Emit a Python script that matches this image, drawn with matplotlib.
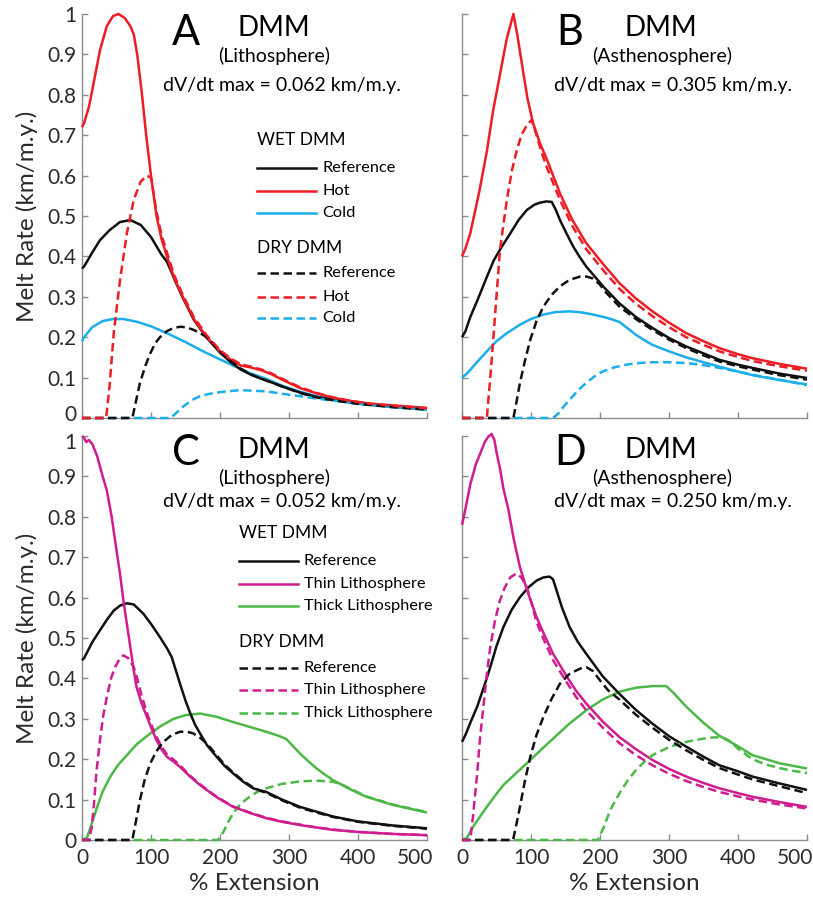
import matplotlib
matplotlib.use("Agg")
import matplotlib.pyplot as plt
from matplotlib.ticker import FuncFormatter
from matplotlib.transforms import ScaledTranslation

plt.rcParams['font.family'] = ['Lato', 'DejaVu Sans']

BLACK = '#111111'
RED = '#ee1c25'
CYAN = '#1aaeeb'
MAGENTA = '#cf1d8f'
GREEN = '#4cb848'
SPINE = '#8c8c8c'
TEXT = '#2b2b2b'

# ---------------- Panel A : DMM lithosphere ----------------
A_wet_ref_x = [0, 3, 15, 26, 40, 55, 70, 85, 100, 115, 123, 130, 134, 146, 162, 181, 200, 215, 230, 245, 260, 275, 290, 316, 340, 364, 400, 450, 500]
A_wet_ref_y = [0.37, 0.375, 0.41, 0.44, 0.465, 0.485, 0.49, 0.478, 0.448, 0.405, 0.387, 0.36, 0.343, 0.298, 0.243, 0.198, 0.162, 0.139, 0.12, 0.107, 0.097, 0.088, 0.078, 0.063, 0.052, 0.045, 0.036, 0.028, 0.022]
A_wet_hot_x = [0, 3, 10, 17, 26, 36, 45, 53, 62, 70, 75, 80, 87, 93, 100, 108, 115, 123, 134, 146, 162, 181, 200, 215, 230, 245, 260, 275, 290, 316, 340, 364, 390, 420, 460, 500]
A_wet_hot_y = [0.72, 0.73, 0.77, 0.83, 0.91, 0.97, 0.995, 1.0, 0.99, 0.97, 0.95, 0.9, 0.8, 0.7, 0.6, 0.5, 0.445, 0.4, 0.345, 0.3, 0.245, 0.2, 0.165, 0.145, 0.13, 0.125, 0.118, 0.108, 0.095, 0.074, 0.061, 0.05, 0.042, 0.035, 0.03, 0.025]
A_wet_cold_x = [0, 3, 15, 30, 45, 60, 80, 100, 123, 150, 171, 195, 219, 245, 267, 290, 316, 340, 364, 400, 450, 500]
A_wet_cold_y = [0.19, 0.2, 0.225, 0.24, 0.245, 0.245, 0.238, 0.227, 0.21, 0.188, 0.169, 0.149, 0.13, 0.11, 0.097, 0.08, 0.065, 0.054, 0.046, 0.036, 0.027, 0.02]
A_dry_ref_x = [0, 73, 78, 84, 92, 99, 106, 113, 123, 133, 143, 152, 162, 171, 181, 200, 215, 230, 245, 260, 275, 290, 316, 340, 364, 400, 450, 500]
A_dry_ref_y = [0, 0, 0.04, 0.087, 0.13, 0.16, 0.185, 0.2, 0.215, 0.223, 0.226, 0.224, 0.218, 0.21, 0.2, 0.165, 0.142, 0.122, 0.108, 0.097, 0.088, 0.078, 0.062, 0.051, 0.044, 0.035, 0.027, 0.021]
A_dry_hot_x = [0, 35, 40, 46, 55, 65, 75, 85, 94, 100, 108, 115, 123, 134, 146, 162, 181, 200, 215, 230, 245, 260, 275, 290, 316, 340, 364, 390, 420, 460, 500]
A_dry_hot_y = [0, 0, 0.08, 0.21, 0.34, 0.457, 0.54, 0.585, 0.6, 0.595, 0.51, 0.455, 0.41, 0.352, 0.305, 0.25, 0.204, 0.168, 0.148, 0.133, 0.127, 0.12, 0.11, 0.097, 0.076, 0.062, 0.051, 0.042, 0.035, 0.029, 0.024]
A_dry_cold_x = [0, 128, 135, 147, 160, 171, 185, 200, 229, 267, 290, 316, 340, 364, 400, 450, 500]
A_dry_cold_y = [0, 0, 0.01, 0.029, 0.045, 0.054, 0.06, 0.064, 0.069, 0.066, 0.06, 0.054, 0.048, 0.043, 0.035, 0.027, 0.021]

# ---------------- Panel B : DMM asthenosphere ----------------
B_wet_ref_x = [0, 5, 12, 22, 35, 46, 58, 70, 82, 94, 105, 113, 122, 130, 136, 142, 152, 161, 170, 180, 205, 228, 252, 276, 300, 325, 350, 373, 400, 421, 460, 500]
B_wet_ref_y = [0.2, 0.215, 0.25, 0.29, 0.345, 0.39, 0.425, 0.457, 0.49, 0.515, 0.528, 0.533, 0.536, 0.535, 0.515, 0.49, 0.455, 0.425, 0.4, 0.375, 0.325, 0.284, 0.25, 0.223, 0.198, 0.177, 0.16, 0.144, 0.132, 0.124, 0.11, 0.099]
B_wet_hot_x = [0, 5, 12, 25, 36, 45, 55, 65, 74.5, 80, 89, 95, 103, 113, 123, 142, 160, 180, 205, 228, 252, 276, 300, 325, 350, 373, 400, 421, 460, 500]
B_wet_hot_y = [0.4, 0.42, 0.457, 0.56, 0.66, 0.76, 0.85, 0.94, 1.0, 0.95, 0.853, 0.79, 0.73, 0.68, 0.64, 0.556, 0.49, 0.433, 0.38, 0.334, 0.296, 0.264, 0.236, 0.21, 0.19, 0.173, 0.158, 0.148, 0.134, 0.122]
B_wet_cold_x = [0, 10, 20, 36, 50, 65, 84, 100, 118, 135, 156, 175, 190, 210, 228, 240, 252, 264, 276, 300, 325, 350, 373, 400, 421, 460, 500]
B_wet_cold_y = [0.099, 0.115, 0.135, 0.165, 0.19, 0.21, 0.231, 0.245, 0.256, 0.262, 0.264, 0.261, 0.256, 0.248, 0.238, 0.222, 0.206, 0.193, 0.181, 0.165, 0.15, 0.138, 0.127, 0.115, 0.106, 0.094, 0.083]
B_dry_ref_x = [0, 74.5, 79, 84, 91, 99, 108, 118, 130, 142, 156, 171, 181, 190, 200, 209, 228, 252, 276, 300, 325, 350, 373, 400, 421, 460, 500]
B_dry_ref_y = [0, 0, 0.04, 0.087, 0.14, 0.194, 0.24, 0.276, 0.305, 0.326, 0.342, 0.35, 0.35, 0.345, 0.33, 0.31, 0.276, 0.245, 0.218, 0.194, 0.173, 0.155, 0.14, 0.128, 0.12, 0.106, 0.095]
B_dry_hot_x = [0, 36, 41, 46, 55, 65, 72, 79, 86, 94, 101, 108, 115, 123, 142, 160, 180, 205, 228, 252, 276, 300, 325, 350, 373, 400, 421, 460, 500]
B_dry_hot_y = [0, 0, 0.1, 0.21, 0.416, 0.54, 0.61, 0.66, 0.7, 0.725, 0.738, 0.7, 0.66, 0.62, 0.54, 0.475, 0.418, 0.365, 0.32, 0.283, 0.252, 0.225, 0.2, 0.181, 0.165, 0.151, 0.141, 0.128, 0.117]
B_dry_cold_x = [0, 132, 140, 148, 156, 168, 180, 192, 204, 220, 238, 256, 276, 300, 325, 350, 373, 400, 421, 460, 500]
B_dry_cold_y = [0, 0, 0.012, 0.03, 0.045, 0.068, 0.087, 0.103, 0.115, 0.125, 0.132, 0.136, 0.138, 0.138, 0.136, 0.131, 0.124, 0.115, 0.107, 0.095, 0.081]

# ---------------- Panel C : DMM lithosphere, thickness ----------------
C_wet_ref_x = [0, 3, 15, 26, 36, 46, 55, 65, 75, 89, 100, 113, 123, 130, 136, 142, 150, 157, 164, 171, 181, 195, 207, 219, 233, 248, 258, 267, 290, 316, 340, 364, 400, 450, 500]
C_wet_ref_y = [0.445, 0.45, 0.49, 0.519, 0.545, 0.568, 0.58, 0.586, 0.583, 0.56, 0.535, 0.502, 0.475, 0.453, 0.42, 0.387, 0.345, 0.313, 0.285, 0.264, 0.235, 0.206, 0.183, 0.165, 0.145, 0.128, 0.123, 0.119, 0.1, 0.082, 0.07, 0.058, 0.046, 0.036, 0.029]
C_wet_thin_x = [0, 3, 6, 10, 15, 22, 30, 36, 43, 50, 55, 60, 65, 70, 75, 79, 86, 94, 101, 108, 115, 123, 132, 142, 156, 171, 195, 219, 245, 267, 290, 316, 340, 364, 400, 450, 500]
C_wet_thin_y = [1.0, 0.995, 0.985, 0.99, 0.98, 0.95, 0.9, 0.865, 0.8, 0.717, 0.66, 0.593, 0.535, 0.478, 0.42, 0.379, 0.34, 0.305, 0.275, 0.247, 0.225, 0.206, 0.195, 0.181, 0.158, 0.136, 0.106, 0.082, 0.066, 0.054, 0.045, 0.037, 0.031, 0.025, 0.02, 0.015, 0.012]
C_wet_thick_x = [0, 7, 14, 22, 30, 41, 52, 65, 80, 99, 115, 133, 150, 171, 195, 219, 245, 267, 285, 296, 306, 316, 328, 340, 352, 364, 388, 412, 450, 500]
C_wet_thick_y = [0, 0.005, 0.04, 0.082, 0.12, 0.157, 0.185, 0.21, 0.238, 0.264, 0.283, 0.3, 0.309, 0.313, 0.305, 0.292, 0.279, 0.268, 0.258, 0.25, 0.232, 0.214, 0.195, 0.177, 0.162, 0.148, 0.126, 0.107, 0.087, 0.068]
C_dry_ref_x = [0, 73, 78, 84, 91, 99, 108, 118, 130, 142, 152, 161, 171, 181, 195, 207, 219, 233, 248, 258, 267, 290, 316, 340, 364, 400, 450, 500]
C_dry_ref_y = [0, 0, 0.045, 0.099, 0.15, 0.19, 0.22, 0.243, 0.26, 0.268, 0.268, 0.264, 0.253, 0.239, 0.21, 0.186, 0.167, 0.147, 0.13, 0.122, 0.117, 0.098, 0.08, 0.068, 0.057, 0.045, 0.035, 0.028]
C_dry_thin_x = [0, 10, 14, 17, 21, 26, 31, 36, 42, 48, 55, 60, 67, 75, 80, 86, 94, 101, 108, 115, 123, 132, 142, 156, 171, 195, 219, 245, 267, 290, 316, 340, 364, 400, 450, 500]
C_dry_thin_y = [0, 0, 0.03, 0.082, 0.17, 0.247, 0.31, 0.354, 0.4, 0.428, 0.45, 0.457, 0.45, 0.428, 0.4, 0.36, 0.315, 0.283, 0.255, 0.232, 0.212, 0.2, 0.185, 0.16, 0.138, 0.107, 0.083, 0.067, 0.055, 0.046, 0.038, 0.031, 0.026, 0.02, 0.015, 0.012]
C_dry_thick_x = [0, 197, 205, 212, 219, 230, 243, 255, 267, 290, 316, 340, 364, 376, 388, 412, 450, 500]
C_dry_thick_y = [0, 0, 0.02, 0.045, 0.066, 0.09, 0.107, 0.12, 0.128, 0.139, 0.145, 0.147, 0.144, 0.138, 0.128, 0.108, 0.088, 0.069]

# ---------------- Panel D : DMM asthenosphere, thickness ----------------
D_wet_ref_x = [0, 5, 12, 22, 32, 41, 50, 60, 72, 84, 96, 108, 118, 127, 132, 137, 145, 156, 168, 180, 204, 228, 252, 276, 300, 325, 350, 373, 400, 421, 460, 500]
D_wet_ref_y = [0.243, 0.26, 0.29, 0.33, 0.38, 0.428, 0.48, 0.527, 0.57, 0.601, 0.625, 0.642, 0.65, 0.652, 0.645, 0.618, 0.575, 0.527, 0.49, 0.461, 0.405, 0.362, 0.322, 0.288, 0.257, 0.231, 0.206, 0.185, 0.17, 0.157, 0.14, 0.124]
D_wet_thin_x = [0, 5, 12, 20, 26, 33, 38, 43, 47, 50, 55, 60, 67, 75, 84, 96, 108, 120, 132, 150, 165, 180, 204, 228, 252, 276, 300, 325, 350, 373, 400, 421, 460, 500]
D_wet_thin_y = [0.78, 0.82, 0.88, 0.93, 0.955, 0.985, 0.998, 1.005, 0.99, 0.96, 0.92, 0.87, 0.82, 0.745, 0.675, 0.61, 0.552, 0.505, 0.461, 0.41, 0.37, 0.338, 0.293, 0.255, 0.225, 0.198, 0.176, 0.157, 0.141, 0.128, 0.116, 0.107, 0.094, 0.082]
D_wet_thick_x = [0, 7, 15, 25, 36, 48, 60, 80, 99, 115, 132, 155, 180, 204, 228, 252, 276, 296, 306, 325, 350, 373, 400, 421, 460, 500]
D_wet_thick_y = [0, 0.005, 0.03, 0.055, 0.082, 0.11, 0.136, 0.168, 0.198, 0.224, 0.251, 0.287, 0.321, 0.348, 0.367, 0.377, 0.381, 0.381, 0.365, 0.33, 0.29, 0.258, 0.232, 0.21, 0.19, 0.177]
D_dry_ref_x = [0, 74, 79, 84, 91, 99, 108, 118, 130, 142, 155, 166, 175, 180, 190, 200, 212, 228, 252, 276, 300, 325, 350, 373, 400, 421, 460, 500]
D_dry_ref_y = [0, 0, 0.04, 0.082, 0.145, 0.206, 0.26, 0.305, 0.35, 0.387, 0.41, 0.42, 0.427, 0.428, 0.418, 0.395, 0.37, 0.348, 0.31, 0.278, 0.248, 0.222, 0.198, 0.178, 0.162, 0.15, 0.133, 0.116]
D_dry_thin_x = [0, 12, 16, 22, 26, 31, 36, 41, 48, 55, 62, 70, 79, 86, 94, 101, 108, 120, 132, 150, 165, 180, 204, 228, 252, 276, 300, 325, 350, 373, 400, 421, 460, 500]
D_dry_thin_y = [0, 0, 0.06, 0.165, 0.25, 0.33, 0.41, 0.478, 0.545, 0.593, 0.625, 0.65, 0.66, 0.65, 0.626, 0.585, 0.54, 0.49, 0.445, 0.395, 0.355, 0.321, 0.278, 0.24, 0.21, 0.185, 0.164, 0.146, 0.131, 0.119, 0.108, 0.1, 0.088, 0.078]
D_dry_thick_x = [0, 197, 205, 215, 228, 240, 252, 264, 276, 300, 325, 350, 365, 378, 390, 400, 421, 440, 460, 480, 500]
D_dry_thick_y = [0, 0, 0.03, 0.075, 0.115, 0.147, 0.173, 0.193, 0.21, 0.23, 0.243, 0.251, 0.254, 0.254, 0.243, 0.226, 0.2, 0.187, 0.178, 0.171, 0.166]

x_ticks = [0, 100, 200, 300, 400, 500]
y_ticks = [0, 0.1, 0.2, 0.3, 0.4, 0.5, 0.6, 0.7, 0.8, 0.9, 1.0]

panel_letters = ['A', 'B', 'C', 'D']
panel_layers = ['(Lithosphere)', '(Asthenosphere)', '(Lithosphere)', '(Asthenosphere)']
panel_rates = ['0.062', '0.305', '0.052', '0.250']

LW = 1.8
DASH = (3.4, 1.8)

fig = plt.figure(figsize=(8.13, 8.98), dpi=100)
W, H = 813, 898
def axes_at(x0, x1, y_top, y_bot):
    return fig.add_axes([x0 / W, 1 - y_bot / H, (x1 - x0) / W, (y_bot - y_top) / H])

axA = axes_at(82, 427, 14, 418)
axB = axes_at(462, 807, 14, 418)
axC = axes_at(82, 427, 436, 840)
axD = axes_at(462, 807, 436, 840)
axes = [axA, axB, axC, axD]

def solid(ax, x, y, c):
    ax.plot(x, y, color=c, lw=LW, clip_on=False, solid_capstyle='butt',
            solid_joinstyle='round', zorder=3)

def dashed(ax, x, y, c):
    ax.plot(x, y, color=c, lw=LW, dashes=DASH, clip_on=False, zorder=3)

solid(axA, A_wet_cold_x, A_wet_cold_y, CYAN)
solid(axA, A_wet_ref_x, A_wet_ref_y, BLACK)
solid(axA, A_wet_hot_x, A_wet_hot_y, RED)
dashed(axA, A_dry_cold_x, A_dry_cold_y, CYAN)
dashed(axA, A_dry_ref_x, A_dry_ref_y, BLACK)
dashed(axA, A_dry_hot_x, A_dry_hot_y, RED)

solid(axB, B_wet_cold_x, B_wet_cold_y, CYAN)
solid(axB, B_wet_ref_x, B_wet_ref_y, BLACK)
solid(axB, B_wet_hot_x, B_wet_hot_y, RED)
dashed(axB, B_dry_cold_x, B_dry_cold_y, CYAN)
dashed(axB, B_dry_ref_x, B_dry_ref_y, BLACK)
dashed(axB, B_dry_hot_x, B_dry_hot_y, RED)

solid(axC, C_wet_thick_x, C_wet_thick_y, GREEN)
solid(axC, C_wet_ref_x, C_wet_ref_y, BLACK)
solid(axC, C_wet_thin_x, C_wet_thin_y, MAGENTA)
dashed(axC, C_dry_thick_x, C_dry_thick_y, GREEN)
dashed(axC, C_dry_ref_x, C_dry_ref_y, BLACK)
dashed(axC, C_dry_thin_x, C_dry_thin_y, MAGENTA)

solid(axD, D_wet_thick_x, D_wet_thick_y, GREEN)
solid(axD, D_wet_ref_x, D_wet_ref_y, BLACK)
solid(axD, D_wet_thin_x, D_wet_thin_y, MAGENTA)
dashed(axD, D_dry_thick_x, D_dry_thick_y, GREEN)
dashed(axD, D_dry_ref_x, D_dry_ref_y, BLACK)
dashed(axD, D_dry_thin_x, D_dry_thin_y, MAGENTA)

fmt = FuncFormatter(lambda v, p: '%g' % round(v, 1))
for i, ax in enumerate(axes):
    ax.set_xlim(0, 500)
    ax.set_ylim(0, 1)
    ax.set_xticks(x_ticks)
    ax.set_yticks(y_ticks)
    ax.yaxis.set_major_formatter(fmt)
    for s in ['top', 'right']:
        ax.spines[s].set_visible(False)
    for s in ['left', 'bottom']:
        ax.spines[s].set_color(SPINE)
        ax.spines[s].set_linewidth(1.0)
    ax.tick_params(direction='in', length=4, width=1.0, color=SPINE,
                   labelsize=15, labelcolor=TEXT, pad=4)
    ax.tick_params(axis='x', pad=6)
    if i in (0, 1):
        ax.tick_params(labelbottom=False)
    else:
        ax.set_xlabel('% Extension', fontsize=17.5, color=TEXT, labelpad=3)
        # nudge the last x label inwards, as in the original
        lab = ax.get_xticklabels()[-1]
        lab.set_transform(lab.get_transform() + ScaledTranslation(-12 / 100, 0, fig.dpi_scale_trans))
    if i in (1, 3):
        ax.tick_params(labelleft=False)
    else:
        ax.set_ylabel('Melt Rate (km/m.y.)', fontsize=17.5, color=TEXT, labelpad=7)
        ylabs = ax.get_yticklabels()
        if i == 0:
            ylabs[0].set_transform(ylabs[0].get_transform() + ScaledTranslation(0, 5 / 100, fig.dpi_scale_trans))
        else:
            ylabs[-1].set_transform(ylabs[-1].get_transform() + ScaledTranslation(0, -5 / 100, fig.dpi_scale_trans))

    left = i in (0, 2)
    top = i in (0, 1)
    lx = 0.30 if left else 0.313
    dx = 0.556 if left else 0.577
    rx = 0.58 if left else 0.612
    ax.text(lx, 0.953 if top else 0.958, panel_letters[i], transform=ax.transAxes,
            fontsize=30, ha='center', va='center', color='black')
    ax.text(dx, 0.966, 'DMM', transform=ax.transAxes, fontsize=20,
            ha='center', va='center', color='black')
    ax.text(dx + 0.002, 0.896, panel_layers[i], transform=ax.transAxes, fontsize=14,
            ha='center', va='center', color='black')
    ax.text(rx, 0.822 if top else 0.837, 'dV/dt max = %s km/m.y.' % panel_rates[i],
            transform=ax.transAxes, fontsize=14, ha='center', va='center', color='black')

# custom legends (panel A and C)
def legend_block(ax, x0, x1, xt, title_y, rows, labels, colors, dashed_style):
    ax.text(x0, title_y, 'WET DMM' if not dashed_style else 'DRY DMM', transform=ax.transAxes,
            fontsize=12.5, ha='left', va='center', color='black')
    for yy, lab, c in zip(rows, labels, colors):
        kw = dict(dashes=DASH) if dashed_style else {}
        ax.plot([x0, x1], [yy, yy], transform=ax.transAxes, color=c, lw=LW, clip_on=False, **kw)
        ax.text(xt, yy, lab, transform=ax.transAxes, fontsize=11.8,
                ha='left', va='center', color='black')

legend_block(axA, 0.507, 0.678, 0.696, 0.688, [0.619, 0.562, 0.507],
             ['Reference', 'Hot', 'Cold'], [BLACK, RED, CYAN], False)
legend_block(axA, 0.507, 0.678, 0.696, 0.421, [0.359, 0.300, 0.248],
             ['Reference', 'Hot', 'Cold'], [BLACK, RED, CYAN], True)
legend_block(axC, 0.455, 0.626, 0.643, 0.760, [0.691, 0.634, 0.579],
             ['Reference', 'Thin Lithosphere', 'Thick Lithosphere'], [BLACK, MAGENTA, GREEN], False)
legend_block(axC, 0.455, 0.626, 0.643, 0.490, [0.426, 0.371, 0.314],
             ['Reference', 'Thin Lithosphere', 'Thick Lithosphere'], [BLACK, MAGENTA, GREEN], True)

fig.savefig('out.png', dpi=100)
